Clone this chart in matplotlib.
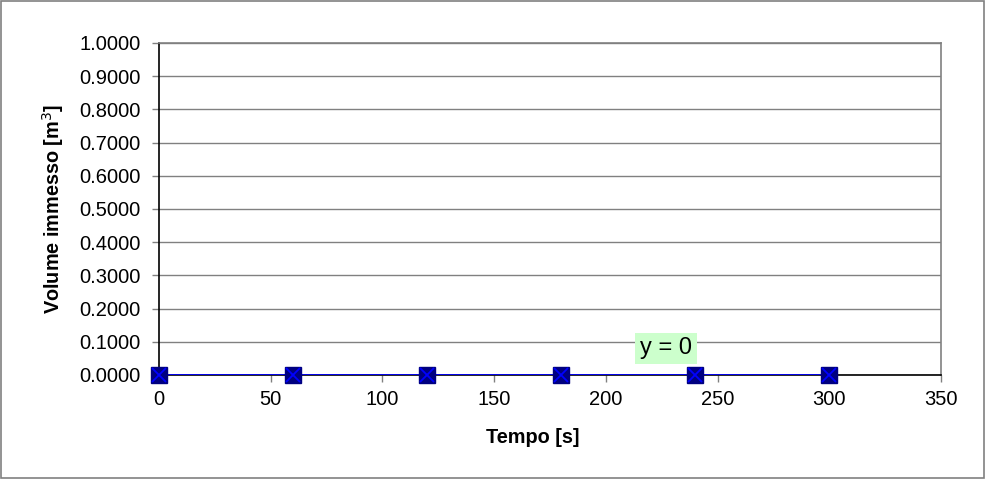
import matplotlib.pyplot as plt
from matplotlib.patches import Rectangle

plt.rcParams['font.family'] = ['Liberation Sans', 'DejaVu Sans']

# data
tempo = [0, 60, 120, 180, 240, 300]
volume = [0.0, 0.0, 0.0, 0.0, 0.0, 0.0]
y_ticks = [0.0, 0.1, 0.2, 0.3, 0.4, 0.5, 0.6, 0.7, 0.8, 0.9, 1.0]
x_ticks = [0, 50, 100, 150, 200, 250, 300, 350]

fig = plt.figure(figsize=(9.86, 4.79), dpi=100)
ax = fig.add_axes([159 / 986, 1 - 375 / 479, (941 - 159) / 986, (375 - 43) / 479])

# outer frame of the chart
fig.patches.append(Rectangle((0.001, 0.002), 0.997, 0.996, transform=fig.transFigure,
                             fill=False, edgecolor='#808080', linewidth=1.2))

ax.set_xlim(0, 350)
ax.set_ylim(0, 1.0)
ax.set_xticks(x_ticks)
ax.set_yticks(y_ticks)
ax.set_yticklabels([f"{v:.4f}" for v in y_ticks])
ax.tick_params(axis='both', labelsize=14.5, direction='out', length=5, width=1, color='#808080')
ax.tick_params(axis='y', pad=8)
ax.tick_params(axis='x', pad=6)

ax.grid(axis='y', color='#808080', linewidth=1)
ax.set_axisbelow(True)
ax.spines['left'].set_color('black')
ax.spines['bottom'].set_color('black')
ax.spines['right'].set_color('#808080')
ax.spines['top'].set_color('#808080')
for s in ax.spines.values():
    s.set_linewidth(1.2)

# trend line
ax.plot([tempo[0], tempo[-1]], [0, 0], color='#0000ff', linewidth=2, zorder=3)
# series markers
ax.plot(tempo, volume, linestyle='none', marker='s', markersize=11.5,
        markerfacecolor='#000080', markeredgecolor='#000080', zorder=4, clip_on=False)
ax.plot(tempo, volume, linestyle='none', marker='x', markersize=10.5,
        markeredgecolor='#0000ff', markeredgewidth=1.3, zorder=5, clip_on=False)

ax.text(227, 0.08, "y = 0", fontsize=17, ha='center', va='center',
        bbox=dict(boxstyle='square,pad=0.2', facecolor='#ccffcc', edgecolor='none'))

ax.set_xlabel("Tempo [s]", fontsize=14.3, fontweight='bold', labelpad=12)
ax.xaxis.set_label_coords(0.478, -0.16)
ax.set_ylabel("Volume immesso [m$^3$]", fontsize=14.3, fontweight='bold', labelpad=10)

fig.savefig("out.png", dpi=100)
